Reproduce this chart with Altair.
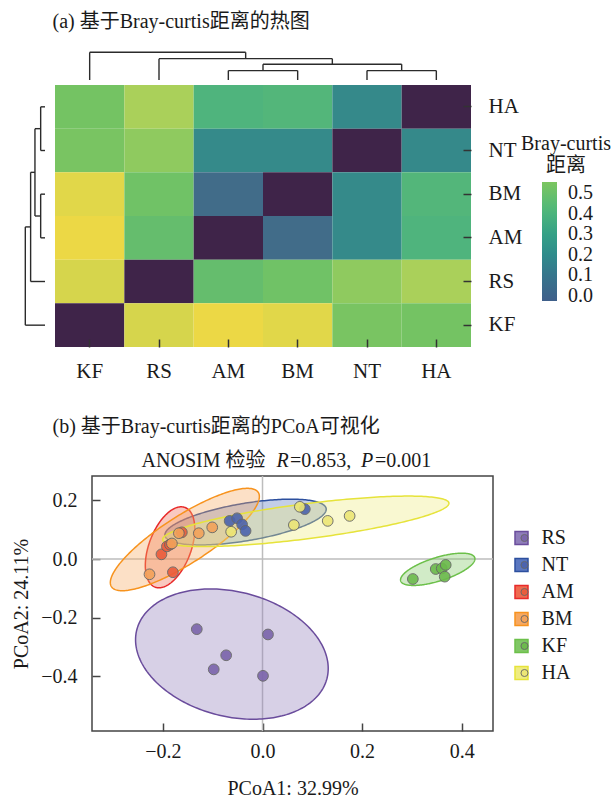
import altair as alt
import numpy as np
import pandas as pd

FONT = "Liberation Serif, Noto Sans CJK SC"
TXT = "#1a1a1a"

# ---------------- (a) heatmap data ----------------
col_order = ["KF", "RS", "AM", "BM", "NT", "HA"]
row_order = ["HA", "NT", "BM", "AM", "RS", "KF"]
d_KF = [0.00, 0.68, 0.72, 0.70, 0.51, 0.50]
d_RS = [0.68, 0.00, 0.46, 0.49, 0.55, 0.60]
d_AM = [0.72, 0.46, 0.00, 0.10, 0.25, 0.40]
d_BM = [0.70, 0.49, 0.10, 0.00, 0.25, 0.41]
d_NT = [0.51, 0.55, 0.25, 0.25, 0.00, 0.245]
d_HA = [0.50, 0.60, 0.40, 0.41, 0.245, 0.00]
dist_rows = {"KF": d_KF, "RS": d_RS, "AM": d_AM, "BM": d_BM, "NT": d_NT, "HA": d_HA}

heat_stops = [0.0, 0.10, 0.25, 0.40, 0.50, 0.60, 0.72]
heat_colors = ["#3f2449", "#416c89", "#358a8a", "#4fb47d", "#74c363", "#aad05a", "#ecd845"]

cbar_ticks = [0.0, 0.1, 0.2, 0.3, 0.4, 0.5]
cbar_stops = [-0.025, 0.1, 0.2, 0.3, 0.42, 0.555]
cbar_colors = ["#3f5f8a", "#36758c", "#2f8b8b", "#35a086", "#4fb87a", "#7cc65f"]

# dendrograms: (left, right, merge height)
col_tree = ("KF", ("RS", (("AM", "BM", 0.34), ("NT", "HA", 0.34), 0.57), 0.77), 1.0)
row_tree = (((("HA", "NT", 0.22), ("BM", "AM", 0.22), 0.51), "RS", 0.73), "KF", 1.0)

# ---------------- (b) PCoA data ----------------
grp_order = ["RS", "NT", "AM", "BM", "KF", "HA"]
pc1_RS = [-0.132, 0.011, -0.073, -0.098, 0.001]
pc2_RS = [-0.239, -0.257, -0.328, -0.376, -0.398]
pc1_NT = [-0.066, -0.051, -0.041, -0.034, 0.085]
pc2_NT = [0.130, 0.139, 0.118, 0.096, 0.170]
pc1_AM = [-0.180, -0.203, -0.192, -0.186, -0.162]
pc2_AM = [-0.045, 0.016, 0.043, 0.049, 0.091]
pc1_BM = [-0.227, -0.182, -0.168, -0.128, -0.101]
pc2_BM = [-0.052, 0.053, 0.088, 0.088, 0.108]
pc1_KF = [0.302, 0.348, 0.360, 0.368, 0.366]
pc2_KF = [-0.068, -0.034, -0.032, -0.020, -0.060]
pc1_HA = [-0.063, 0.075, 0.063, 0.131, 0.175]
pc2_HA = [0.093, 0.178, 0.116, 0.130, 0.147]
pc1 = {"RS": pc1_RS, "NT": pc1_NT, "AM": pc1_AM, "BM": pc1_BM, "KF": pc1_KF, "HA": pc1_HA}
pc2 = {"RS": pc2_RS, "NT": pc2_NT, "AM": pc2_AM, "BM": pc2_BM, "KF": pc2_KF, "HA": pc2_HA}

# confidence ellipses: centre, half extents, correlation
ell_cx = [-0.0615, -0.034, -0.1857, -0.156, 0.352, 0.087]
ell_cy = [-0.324, 0.126, 0.040, 0.0665, -0.035, 0.1285]
ell_hx = [0.1935, 0.162, 0.0497, 0.1497, 0.0747, 0.2875]
ell_hy = [0.222, 0.078, 0.138, 0.1745, 0.055, 0.086]
ell_rho = [-0.22, 0.56, 0.45, 0.84, 0.65, 0.715]

pt_colors = ["#7b64ab", "#4b63ae", "#ea5b3b", "#f3a25a", "#6cba4c", "#ece676"]
ell_stroke = ["#6a4c9c", "#2c4f9e", "#e82a2a", "#f7931e", "#6cc04a", "#e6e33a"]
ell_fill = ["#8f7dba", "#5a77c0", "#ef6a4f", "#f7a860", "#80c765", "#efec80"]

# ================= panel (a) =================
hm_df = pd.DataFrame(
    [{"row": r, "col": c, "d": dist_rows[r][i]} for r in row_order for i, c in enumerate(col_order)]
)


def build(node, pos, segs):
    if isinstance(node, str):
        return pos[node], 0.0
    a, b, h = node
    pa, ha = build(a, pos, segs)
    pb, hb = build(b, pos, segs)
    segs.append((pa, pa, ha, h))
    segs.append((pb, pb, hb, h))
    segs.append((pa, pb, h, h))
    return (pa + pb) / 2.0, h


top_segs = []
build(col_tree, {c: i + 0.5 for i, c in enumerate(col_order)}, top_segs)
top_df = pd.DataFrame(top_segs, columns=["p", "p2", "h", "h2"])
left_segs = []
build(row_tree, {r: 6 - (i + 0.5) for i, r in enumerate(row_order)}, left_segs)
left_df = pd.DataFrame(left_segs, columns=["p", "p2", "h", "h2"])

HM_W = 379
HM_H = 262
XR = [-37, 379]

heat = alt.Chart(hm_df).mark_rect().encode(
    x=alt.X("col:N", sort=col_order, title=None,
            scale=alt.Scale(range=XR, paddingInner=0, paddingOuter=0),
            axis=alt.Axis(orient="bottom", labelAngle=0, labelFontSize=21, labelFont=FONT,
                          labelColor=TXT, tickSize=8, tickWidth=1.5, tickColor="#333",
                          offset=-8, domain=False, grid=False, labelPadding=13)),
    y=alt.Y("row:N", sort=row_order, title=None,
            scale=alt.Scale(paddingInner=0, paddingOuter=0),
            axis=alt.Axis(orient="right", labelFontSize=21, labelFont=FONT, labelColor=TXT,
                          tickSize=8, tickWidth=1.5, tickColor="#333", offset=-8,
                          domain=False, grid=False, labelPadding=17)),
    color=alt.Color("d:Q", scale=alt.Scale(domain=heat_stops, range=heat_colors, interpolate="rgb"),
                    legend=None),
)

topd = alt.Chart(top_df).mark_rule(color="#2b2b2b", strokeWidth=1.4, clip=False).encode(
    x=alt.X("p:Q", scale=alt.Scale(domain=[0, 6], range=XR, nice=False, zero=False), axis=None),
    x2="p2:Q",
    y=alt.Y("h:Q", scale=alt.Scale(domain=[0, 1], range=[-5, -32.7], nice=False, zero=False), axis=None),
    y2="h2:Q",
)

leftd = alt.Chart(left_df).mark_rule(color="#2b2b2b", strokeWidth=1.4, clip=False).encode(
    y=alt.Y("p:Q", scale=alt.Scale(domain=[0, 6], range=[HM_H, 0], nice=False, zero=False), axis=None),
    y2="p2:Q",
    x=alt.X("h:Q", scale=alt.Scale(domain=[0, 1], range=[-47, -66.7], nice=False, zero=False), axis=None),
    x2="h2:Q",
)

cbar = alt.Chart(pd.DataFrame({"v": cbar_ticks})).mark_rect(fillOpacity=0, strokeOpacity=0).encode(
    fill=alt.Fill("v:Q",
                  scale=alt.Scale(domain=cbar_stops, range=cbar_colors, interpolate="rgb"),
                  legend=alt.Legend(orient="none", legendX=450, legendY=97, title=None,
                                    direction="vertical", gradientLength=119, gradientThickness=15,
                                    values=cbar_ticks, format=".1f", labelFontSize=20, labelFont=FONT,
                                    labelColor=TXT, labelOffset=11, labelOverlap=False,
                                    gradientStrokeWidth=0, padding=0)),
)

cbar_title = alt.Chart(pd.DataFrame({"t": ["Bray-curtis\n距离"]})).mark_text(
    font=FONT, fontSize=20, color=TXT, align="center", baseline="middle", lineBreak="\n", lineHeight=22
).encode(text="t:N", x=alt.value(474), y=alt.value(59))

panel_a = alt.layer(heat, topd, leftd, cbar, cbar_title).resolve_scale(
    x="independent", y="independent"
).properties(
    width=HM_W, height=HM_H,
    title=alt.TitleParams("(a) 基于Bray-curtis距离的热图", anchor="start", frame="group", dx=-39.5,
                          offset=20, fontSize=20, font=FONT, fontWeight="normal", color=TXT),
)

# ================= panel (b) =================
pts_df = pd.DataFrame(
    [{"group": g, "x": x, "y": y} for g in grp_order for x, y in zip(pc1[g], pc2[g])]
)

ell_rows = []
for g, cx, cy, hx, hy, rho in zip(grp_order, ell_cx, ell_cy, ell_hx, ell_hy, ell_rho):
    u = np.sort(np.cos(np.linspace(0, np.pi, 121)))
    s = np.sqrt(np.clip(1 - u ** 2, 0, None))
    r2 = np.sqrt(1 - rho ** 2)
    for ui, si in zip(u, s):
        ell_rows.append({"group": g, "x": cx + hx * ui,
                         "ylo": cy + hy * (rho * ui - r2 * si),
                         "yhi": cy + hy * (rho * ui + r2 * si)})
ell_df = pd.DataFrame(ell_rows)

xs = alt.Scale(domain=[-0.3425, 0.463], nice=False, zero=False)
ys = alt.Scale(domain=[-0.586, 0.283], nice=False, zero=False)
xaxis = alt.Axis(values=[-0.2, 0.0, 0.2, 0.4], format=".1f", labelFontSize=20, labelFont=FONT,
                 labelColor=TXT, tickSize=8, tickWidth=1.5, tickColor="#444", offset=-8,
                 domain=False, grid=False, labelPadding=10, titlePadding=17, titleFontSize=20,
                 titleFont=FONT, titleFontWeight="normal", titleColor=TXT)
yaxis = alt.Axis(values=[-0.4, -0.2, 0.0, 0.2], format=".1f", labelFontSize=20, labelFont=FONT,
                 labelColor=TXT, tickSize=8, tickWidth=1.5, tickColor="#444", offset=-8,
                 domain=False, grid=False, labelPadding=15, titlePadding=9, titleFontSize=20,
                 titleFont=FONT, titleFontWeight="normal", titleColor=TXT)
XT = "PCoA1: 32.99%"
YT = "PCoA2: 24.11%"


def X(f):
    return alt.X(f, type="quantitative", scale=xs, axis=xaxis, title=XT)


def Y(f):
    return alt.Y(f, type="quantitative", scale=ys, axis=yaxis, title=YT)


zero_df = pd.DataFrame({"z": [0.0]})
vline = alt.Chart(zero_df).mark_rule(color="#bdbdbd", strokeWidth=1.5).encode(x=X("z"))
hline = alt.Chart(zero_df).mark_rule(color="#bdbdbd", strokeWidth=1.5).encode(y=Y("z"))

sq_legend = alt.Legend(orient="none", legendX=419.5, legendY=52, title=None, symbolType="square",
                       symbolSize=169, symbolStrokeWidth=1.5, labelFontSize=20, labelFont=FONT,
                       labelColor=TXT, labelOffset=10, rowPadding=7, padding=0)
ellipses = alt.Chart(ell_df).mark_area(fillOpacity=0.36, strokeWidth=1.5).encode(
    x=X("x"), y=Y("ylo"), y2=alt.Y2("yhi"),
    fill=alt.Fill("group:N", scale=alt.Scale(domain=grp_order, range=ell_fill), legend=sq_legend),
    stroke=alt.Stroke("group:N", scale=alt.Scale(domain=grp_order, range=ell_stroke), legend=sq_legend),
)

circ_legend = alt.Legend(orient="none", legendX=422.5, legendY=52, title=None, symbolType="circle",
                         symbolSize=50, symbolStrokeColor="#666", symbolStrokeWidth=1,
                         labelFontSize=20, labelFont=FONT, labelExpr="''", labelOffset=10,
                         rowPadding=7, padding=0)
points = alt.Chart(pts_df).mark_circle(size=115, opacity=0.9, stroke="#666", strokeWidth=1).encode(
    x=X("x"), y=Y("y"),
    color=alt.Color("group:N", sort=None, scale=alt.Scale(range=pt_colors), legend=circ_legend),
)


def seg(text, xpos, italic=False):
    return alt.Chart(pd.DataFrame({"t": [text]})).mark_text(
        align="left", baseline="middle", fontSize=20, font=FONT, color=TXT,
        fontStyle="italic" if italic else "normal",
    ).encode(text="t:N", x=alt.value(xpos), y=alt.value(-15))


sub = [seg("ANOSIM 检验", 49.6), seg("R", 184.4, True), seg("=0.853,", 198),
       seg("P", 269, True), seg("=0.001", 283)]

panel_b = alt.layer(vline, hline, ellipses, points, *sub).properties(
    width=401, height=255,
    view=alt.ViewBackground(stroke="#444", strokeWidth=1.5),
    title=alt.TitleParams("(b) 基于Bray-curtis距离的PCoA可视化", anchor="start", frame="group",
                          dx=-39.5, offset=14, fontSize=20, font=FONT, fontWeight="normal", color=TXT),
)

chart = alt.vconcat(panel_a, panel_b, spacing=129, bounds="flush").resolve_scale(
    color="independent", fill="independent", stroke="independent"
).properties(
    padding={"left": 10, "top": 11, "right": 0, "bottom": 5}
).configure(font=FONT).configure_view(stroke="transparent")

chart.save("out.html", embed_options={"renderer": "svg", "actions": False})
